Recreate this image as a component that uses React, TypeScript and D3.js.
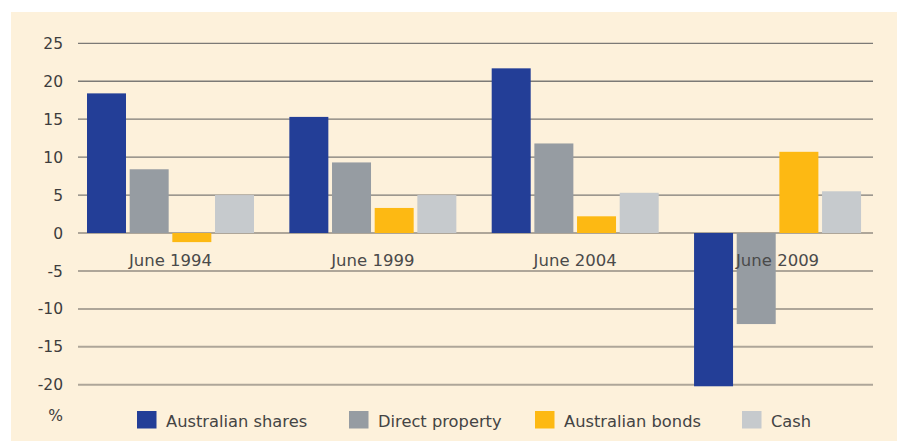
import React from "react";
import * as d3 from "d3";

const categories = ["June 1994", "June 1999", "June 2004", "June 2009"];
const seriesNames = ["Australian shares", "Direct property", "Australian bonds", "Cash"];
const australianShares = [18.4, 15.3, 21.7, -20.2];
const directProperty = [8.4, 9.3, 11.8, -12.0];
const australianBonds = [-1.2, 3.3, 2.2, 10.7];
const cash = [5.0, 5.0, 5.3, 5.5];
const yTicks = [25, 20, 15, 10, 5, 0, -5, -10, -15, -20];
const colors = ["#233e97", "#969ca2", "#fdb913", "#c6cacd"];

const seriesValues = [australianShares, directProperty, australianBonds, cash];

const W = 898;
const H = 441;
const FONT = "'DejaVu Sans', sans-serif";

export default function App() {
  const y = d3.scaleLinear().domain([0, 25]).range([233, 43.3]);
  const x0 = d3.scaleBand<string>().domain(categories).range([69.3, 878.7]);
  const x1 = d3
    .scaleBand<string>()
    .domain(seriesNames)
    .range([17.7, 184.7])
    .paddingInner(0.086);
  const gridX1 = 78;
  const gridX2 = 873;

  const legendX = [137, 349, 535, 742];

  return (
    <svg
      width={W}
      height={H}
      style={{ position: "absolute", left: 0, top: 0, display: "block" }}
    >
      <rect x={0} y={0} width={W} height={H} fill="#ffffff" />
      <rect x={11} y={12} width={886} height={429} fill="#fdf1db" />
      {yTicks.map((t) => (
        <g key={t}>
          <line
            x1={gridX1}
            x2={gridX2}
            y1={y(t)}
            y2={y(t)}
            stroke={t > 0 ? "#7c7a76" : "#aea699"}
            strokeWidth={t > 0 ? 1.3 : 2}
          />
          <text
            x={63}
            y={y(t)}
            dy="0.36em"
            textAnchor="end"
            fontFamily={FONT}
            fontSize={15.5}
            fill="#3d3d3d"
          >
            {t}
          </text>
        </g>
      ))}
      {categories.map((c, ci) => (
        <g key={c} transform={`translate(${x0(c)},0)`}>
          {seriesNames.map((s, si) => {
            const v = seriesValues[si][ci];
            return (
              <rect
                key={s}
                x={x1(s)}
                y={y(Math.max(0, v))}
                width={x1.bandwidth()}
                height={Math.abs(y(v) - y(0))}
                fill={colors[si]}
              />
            );
          })}
        </g>
      ))}
      {categories.map((c) => (
        <text
          key={c}
          x={(x0(c) as number) + 101.2}
          y={266}
          textAnchor="middle"
          fontFamily={FONT}
          fontSize={16.5}
          fill="#4a4a4a"
        >
          {c}
        </text>
      ))}
      <text
        x={63}
        y={421}
        textAnchor="end"
        fontFamily={FONT}
        fontSize={15.5}
        fill="#3d3d3d"
      >
        %
      </text>
      {seriesNames.map((s, i) => (
        <g key={s}>
          <rect x={legendX[i]} y={411} width={19.5} height={17.5} fill={colors[i]} />
          <text
            x={legendX[i] + 29}
            y={427}
            fontFamily={FONT}
            fontSize={16.3}
            fill="#444444"
          >
            {s}
          </text>
        </g>
      ))}
    </svg>
  );
}
